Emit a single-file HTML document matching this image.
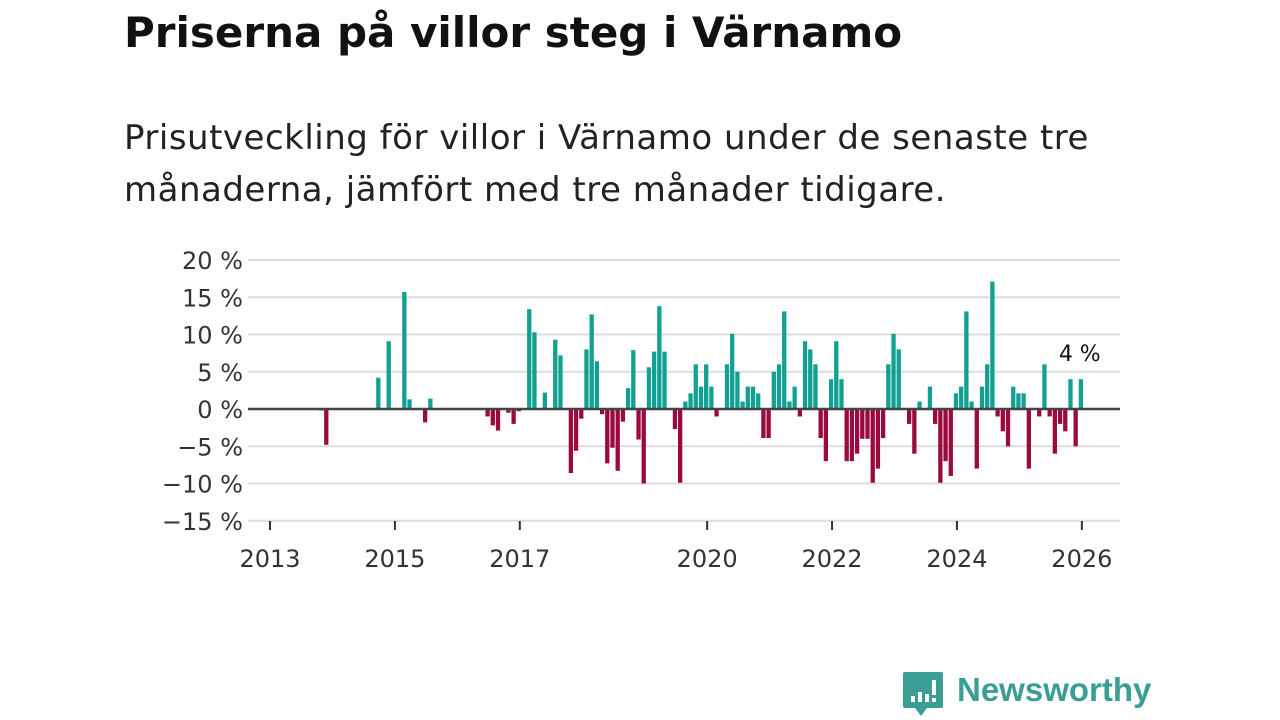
<!DOCTYPE html>
<html><head><meta charset="utf-8">
<style>
body{margin:0;width:1280px;height:720px;background:#fff;overflow:hidden;font-family:"DejaVu Sans",sans-serif;position:relative}
#title{position:absolute;left:124px;top:8px;font-size:42px;font-weight:bold;color:#111;margin:0;white-space:nowrap}
#sub{position:absolute;left:124px;top:112px;font-size:34px;letter-spacing:0.5px;line-height:52px;color:#222;white-space:nowrap}
svg{position:absolute;left:0;top:0}
#logo-text{position:absolute;left:957px;top:671px;font-size:33px;font-weight:bold;color:#3a9e95;font-family:"Liberation Sans",sans-serif}
</style></head><body>
<h1 id="title">Priserna på villor steg i Värnamo</h1>
<div id="sub">Prisutveckling för villor i Värnamo under de senaste tre<br>månaderna, jämfört med tre månader tidigare.</div>
<svg id="chart" width="1280" height="720"></svg>
<svg width="1280" height="720">
<path d="M905 672 h36 q2 0 2 2 v32 q0 2 -2 2 h-14 l-6 8 l-6 -8 h-10 q-2 0 -2 -2 v-32 q0 -2 2 -2z" fill="#3a9e95"/>
<rect x="911" y="696" width="4" height="6" fill="#fff"/><rect x="918" y="692" width="4" height="10" fill="#fff"/><rect x="925" y="694" width="4" height="8" fill="#fff"/><rect x="932" y="680" width="4" height="15" fill="#fff"/><rect x="932" y="698" width="4" height="4" fill="#fff"/>
</svg>
<div id="logo-text">Newsworthy</div>
<script>
const values = [0,0,0,0,0,0,0,0,0,-0.2,-4.8,0,0,0,0,0,0,0,0,0,
4.2,0,9.1,0,0,15.7,1.3,0,0,-1.8,1.4,0,0,0,0,0,0,0,0,0,
0,-1.0,-2.2,-2.9,0,-0.5,-2.0,-0.3,0,13.4,10.3,0,2.2,0,9.3,7.2,0,-8.6,-5.6,-1.3,
8.0,12.7,6.4,-0.7,-7.3,-5.2,-8.3,-1.7,2.8,7.9,-4.1,-10.0,5.6,7.7,13.8,7.7,0,-2.7,-9.9,1.0,
2.1,6.0,3.0,6.0,3.0,-1.0,0,6.0,10.1,5.0,1.0,3.0,3.0,2.1,-3.9,-3.9,5.0,6.0,13.1,1.0,
3.0,-1.0,9.1,8.0,6.0,-3.9,-7.0,4.0,9.1,4.0,-7.0,-7.0,-6.0,-4.0,-4.0,-9.9,-8.0,-3.9,6.0,10.1,
8.0,0,-2.0,-6.0,1.0,0,3.0,-2.0,-9.9,-7.0,-9.0,2.1,3.0,13.1,1.0,-8.0,3.0,6.0,17.1,-1.0,
-3.0,-5.0,3.0,2.1,2.1,-8.0,0,-1.0,6.0,-1.0,-6.0,-2.0,-3.0,4.0,-5.0,4.0];
const startYear = 2013;
const yTicks = [20,15,10,5,0,-5,-10,-15];
const xTicks = [2013,2015,2017,2020,2022,2024,2026];
const lastLabel = "4 %";
const NS="http://www.w3.org/2000/svg";
const svg=document.getElementById('chart');
const xS=t=>270+(t-startYear)*62.45;
const yS=v=>409-v*7.45;
const FF='DejaVu Sans, sans-serif';
function mk(tag,attrs){const e=document.createElementNS(NS,tag);for(const k in attrs)e.setAttribute(k,attrs[k]);svg.appendChild(e);return e;}
yTicks.forEach(v=>{
 if(v!==0){const l=mk('line',{x1:248,x2:1120,y1:yS(v),y2:yS(v),stroke:'#ddd','stroke-width':2});
 
 }
 const t=mk('text',{x:243,y:yS(v)+9,'text-anchor':'end','font-size':24,fill:'#333','font-family':FF});
 t.textContent=(v<0?'\u2212'+(-v):v)+' %';
 
 
});
values.forEach((v,i)=>{
 if(v===0)return;
 const x=xS(startYear+(i+0.4)/12);
 const r=mk('rect',{x:x,width:4.3,y:Math.min(yS(v),yS(0)),height:Math.abs(yS(v)-yS(0)),fill:v>0?'#12a092':'#9b0a3e'});
 
 
});
const z=mk('line',{x1:248,x2:1120,y1:yS(0),y2:yS(0),stroke:'#444','stroke-width':2.5});


xTicks.forEach(y=>{
 const l=mk('line',{x1:xS(y),x2:xS(y),y1:521,y2:530,stroke:'#333','stroke-width':2});
 
 
 const t=mk('text',{x:xS(y),y:567,'text-anchor':'middle','font-size':24,fill:'#333','font-family':FF});
 t.textContent=y;
 
 
});
const li=values.length-1;
const lab=mk('text',{x:xS(startYear+(li+0.6)/12),y:yS(values[li])-18,'text-anchor':'middle','font-size':22,fill:'#111','font-family':FF});
lab.textContent=lastLabel;


</script>
</body></html>
